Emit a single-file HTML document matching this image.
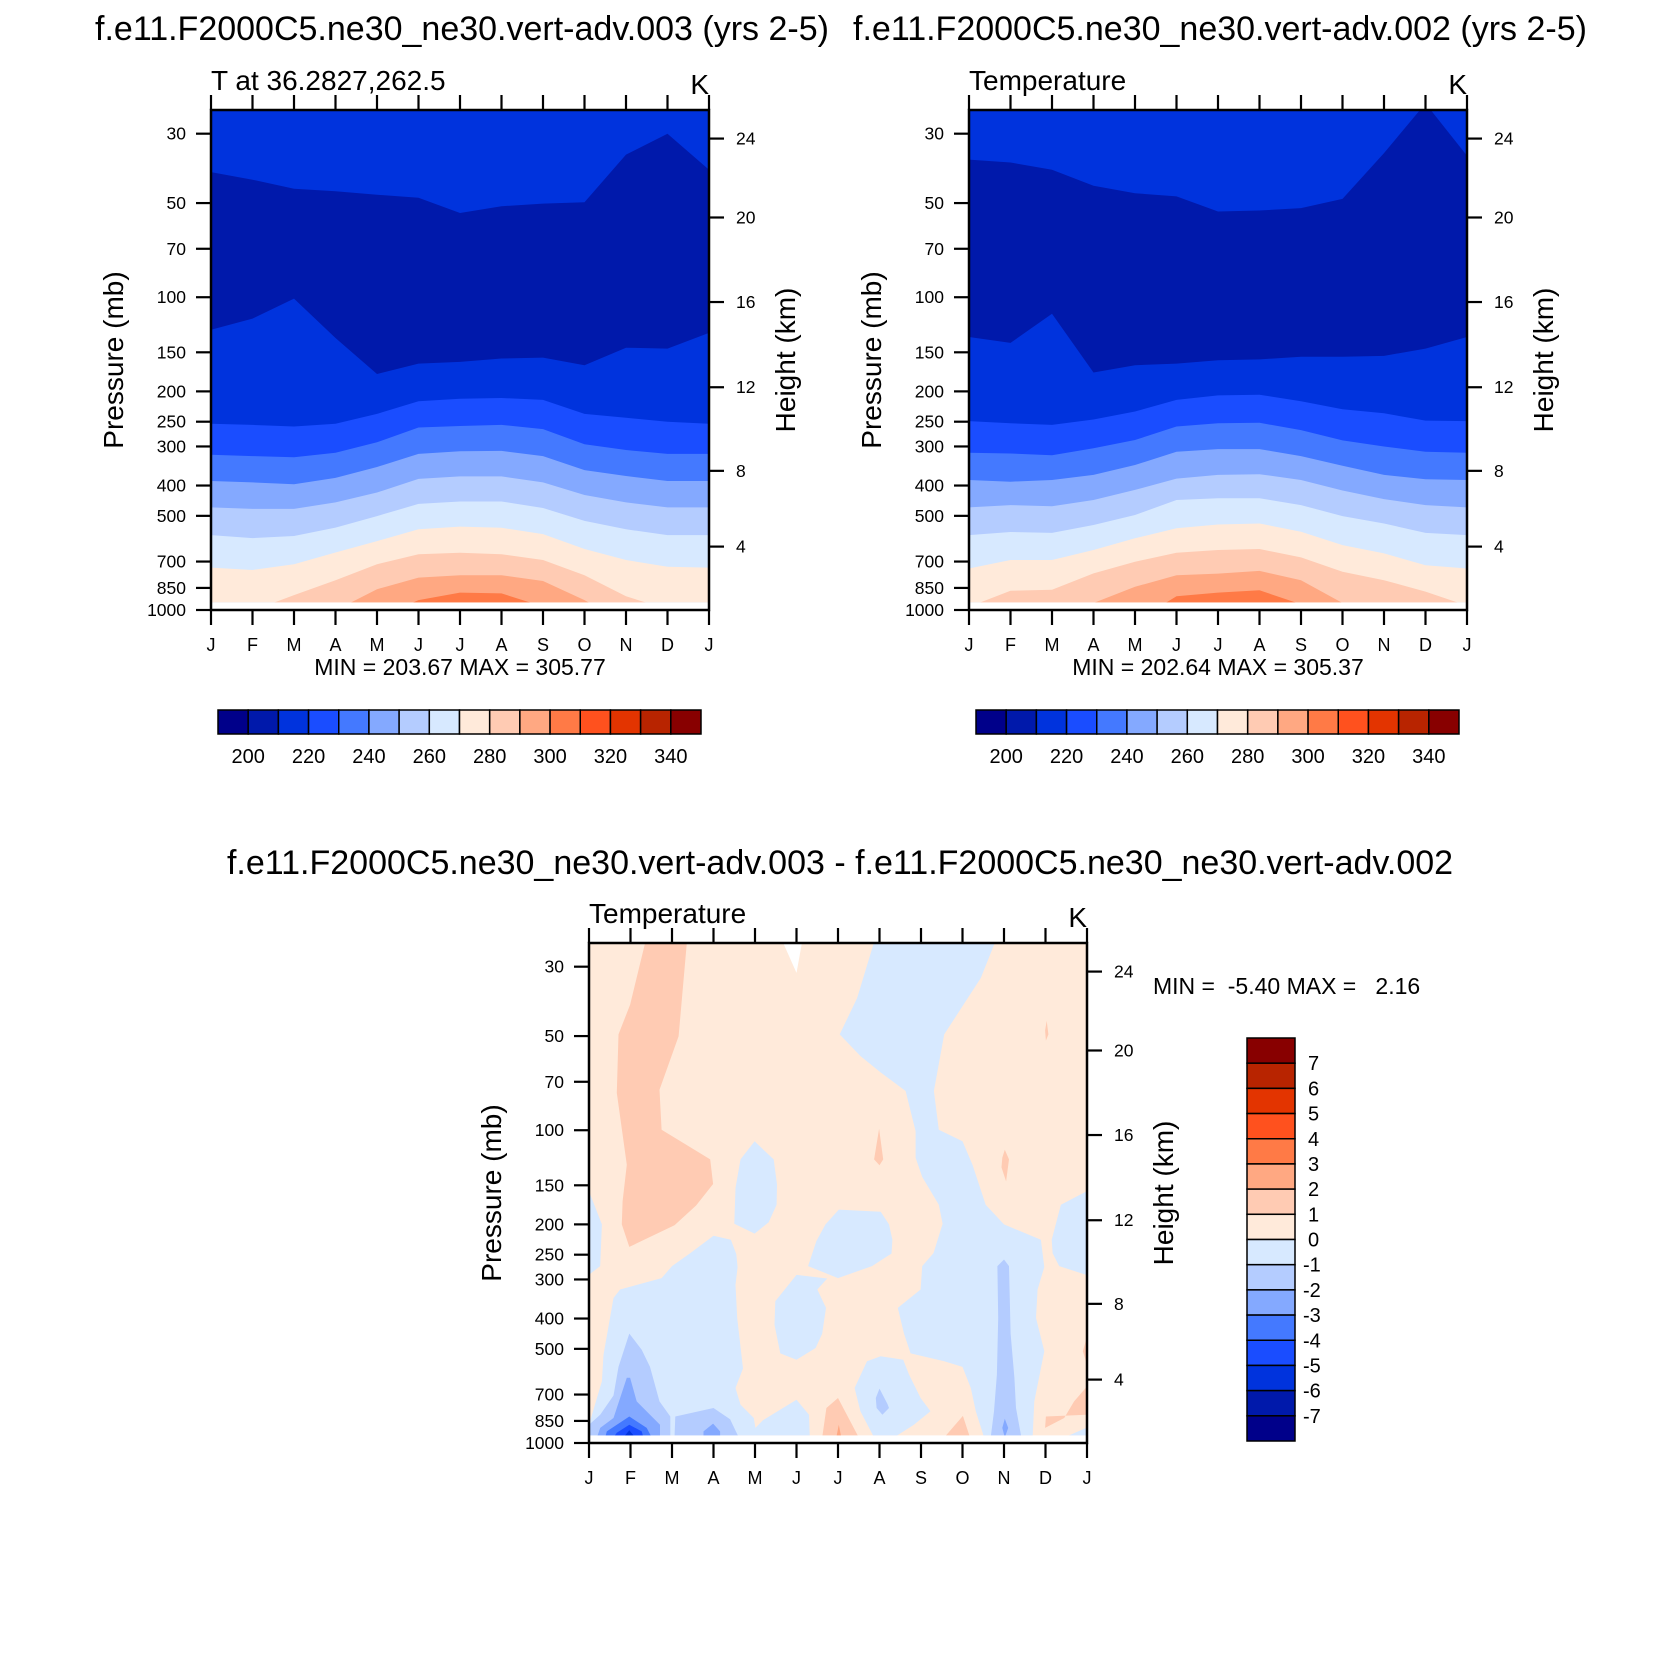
<!DOCTYPE html>
<html><head><meta charset="utf-8"><style>
html,body{margin:0;padding:0;background:#fff;}
svg{display:block;font-family:"Liberation Sans",Arial,sans-serif;}
</style></head><body>
<svg id="fig" xmlns="http://www.w3.org/2000/svg" width="1675" height="1678" viewBox="0 0 1675 1678">
<rect x="0" y="0" width="1675" height="1678" fill="#fff"/>
</svg>
<script>
// ---------- data ----------
const months = ['J','F','M','A','M','J','J','A','S','O','N','D','J'];
const pressureTicks = [30,50,70,100,150,200,250,300,400,500,700,850,1000];
const heightTickKm = [24,20,16,12,8,4];
const heightTickP = [31.1,55.6,103.6,194,359,627];
const tempCbarLabels = [200,220,240,260,280,300,320,340];
const diffCbarLabels = [7,6,5,4,3,2,1,0,-1,-2,-3,-4,-5,-6,-7];
const cbarColors = ['#00008a','#0019ab','#0033dd','#1a4dff','#4479ff','#84a9ff','#b4ccff','#d7e9ff','#ffeada','#ffcbb3','#ffa882','#ff7a46','#ff511e','#e33400','#b82400','#880000'];

// Plot 1 (vert-adv.003): pressure (mb) of isotherms per month
const p1Upper210 = [39.8,42.1,45.0,45.8,47.0,48.1,53.8,51.2,50.2,49.7,35.0,30.0,39.1];
const p1Lower210 = [127,117,101,135,176,163,161,157,156,165,145,146,130];
const p1C220 = [254,256,259,254,236,215,211,210,213,236,243,250,254];
const p1C230 = [319,322,325,314,291,261,258,256,264,295,308,317,317];
const p1C240 = [387,391,396,378,349,317,311,310,322,357,373,387,387];
const p1C250 = [470,475,475,453,421,381,374,374,391,429,453,470,470];
const p1C260 = [576,589,580,545,501,458,450,450,472,519,552,576,576];
const p1C270 = [732,745,714,655,602,552,541,546,572,638,692,727,732];
const p1C280 = [1005,1005,896,803,714,663,656,663,692,774,904,995,1005];
const p1C290 = [1100,1100,1100,1003,858,788,774,774,808,930,1105,1100,1100];
const p1C300 = [1100,1100,1100,1100,1065,930,880,885,975,1100,1100,1100,1100];

// Plot 2 (vert-adv.002)
const p2Upper210 = [36.3,37.1,39.1,44.0,46.5,47.6,53.2,52.8,51.9,48.5,34.6,24,35.3];
const p2Lower210 = [134,140,113,174,165,163,159,158,155,155,154,146,134];
const p2C220 = [249,253,256,246,232,213,206,205,215,228,235,248,249];
const p2C230 = [314,316,320,304,286,259,253,252,266,287,300,312,314];
const p2C240 = [384,389,384,370,344,312,306,306,322,346,370,382,384];
const p2C250 = [470,462,466,445,413,380,370,368,384,415,442,462,470];
const p2C260 = [576,563,567,535,497,445,439,439,462,501,529,567,576];
const p2C270 = [737,692,692,643,590,548,533,529,562,620,659,719,737];
const p2C280 = [977,868,861,764,701,656,643,638,679,755,803,873,969];
const p2C290 = [1050,1050,1050,950,843,774,765,750,803,950,1050,1050,1050];
const p2C300 = [1100,1100,1100,1100,1088,904,880,865,959,1100,1100,1100,1100];

// Difference plot regions: [month, pressure] vertices
const dPos1A = [[1.39,24],[2.37,24],[2.16,50.1],[1.70,74.2],[1.75,99.6],[2.92,124],[2.99,148.6],[2.58,174],[2.06,201.4],[0.97,236],[0.79,200],[0.81,168.8],[0.91,128.9],[0.67,76],[0.71,49.4],[0.99,39.7]];
const dPos1B = [[6.99,98.9],[7.09,124],[7.0,129.5],[6.87,124]];
const dPos1C = [[11.03,44.7],[11.07,49.4],[11.01,51.7],[10.99,48]];
const dPos1D = [[10.02,115.4],[10.12,124],[10.05,145.7],[9.94,131.5],[9.96,122.5]];
const dPos1E = [[6.0,718],[6.5,960],[5.62,960],[5.72,773]];
const dPos2E = [[6.02,874],[6.08,960],[5.96,960]];
const dPos1F = [[9.01,819],[9.18,960],[8.56,960]];
const dPos1G = [[11.98,664],[11.98,812],[11.01,823],[10.99,895],[11.45,832],[11.69,736]];
const dPos1H = [[11.98,467],[11.90,509],[11.98,550]];
const dNeg1A = [[9.84,24],[9.44,32.6],[8.56,49.4],[8.31,74.9],[8.43,99.6],[9.0,108.5],[9.24,129],[9.56,173],[10.0,200],[10.89,224],[10.97,274],[10.81,323],[10.77,398],[10.97,509],[10.73,736],[10.69,960],[9.52,960],[9.32,791],[9.2,667],[9.0,571],[8.56,548],[7.75,517],[7.59,447],[7.44,370],[7.99,323],[8.03,272],[8.30,247],[8.52,199],[8.43,173],[8.03,141],[7.87,122.5],[7.87,100.7],[7.63,74.9],[7.03,65.4],[6.54,57.9],[6.04,49.4],[6.46,37.8],[6.91,24]];
const dNeg2A = [[9.84,272],[10.0,259],[10.12,272],[10.16,447],[10.25,619],[10.29,773],[10.42,960],[9.68,960],[9.76,791],[9.83,604],[9.86,398]];
const dNeg3A = [[10.02,836],[10.1,895],[10.02,960],[9.96,895]];
const dNeg1B = [[0,156.8],[0.31,200],[0.27,272],[0,289.7]];
const dNeg1C = [[0,874],[0.31,635],[0.35,522],[0.59,344],[0.75,323],[1.75,297],[2.0,272],[2.44,247],[3.0,217.5],[3.42,224],[3.55,249],[3.58,274],[3.53,312],[3.57,398],[3.71,578],[3.53,667],[3.65,754],[3.97,832],[4.01,895],[4.19,846],[5.0,727],[5.30,812],[5.32,960],[0,960]];
const dNeg2C = [[0,874],[0.27,812],[0.59,705],[0.71,571],[0.97,447],[1.27,503],[1.47,571],[1.70,736],[1.96,823],[1.96,960],[0,960]];
const dNeg3C = [[0.27,895],[0.59,832],[0.91,619],[0.99,619],[1.15,736],[1.47,812],[1.71,874],[1.71,960],[0.19,960]];
const dNeg4C = [[0.43,918],[0.97,823],[1.39,895],[1.51,960],[0.39,960]];
const dNeg5C = [[0.67,927],[0.97,874],[1.27,918],[1.31,960],[0.59,960]];
const dNeg6C = [[0.83,960],[0.97,910],[1.11,960]];
const dNeg2D = [[2.08,823],[3.0,773],[3.40,840],[3.61,960],[2.06,960]];
const dNeg3D = [[2.76,918],[2.99,867],[3.16,918],[3.16,960],[2.76,960]];
const dNeg1E = [[3.65,124],[3.99,108.5],[4.45,124],[4.53,149],[4.52,173],[4.33,197],[3.99,214],[3.50,199],[3.53,153]];
const dNeg1F = [[5.70,200],[6.02,179.4],[7.03,182.3],[7.23,200],[7.31,224],[7.29,248],[6.82,272],[6.0,297],[5.28,272],[5.48,226]];
const dNeg1G = [[5.0,290],[5.74,298],[5.50,323],[5.71,370],[5.62,447],[5.46,497],[5.0,542],[4.61,517],[4.47,419],[4.49,352]];
const dNeg1H = [[6.40,667],[6.70,548],[7.03,528],[7.57,542],[7.71,604],[7.99,718],[8.23,791],[7.83,874],[7.35,960],[6.87,960],[6.54,791]];
const dNeg2H = [[7.0,670],[7.19,750],[7.23,773],[7.07,812],[6.93,773],[6.91,718]];
const dNeg1I = [[11.98,157],[11.37,173],[11.15,224],[11.17,247],[11.33,272],[11.98,290]];
const dNeg1J = [[11.45,960],[11.98,895],[11.98,960]];
const dMissing = [[4.61,24],[5.16,24],[5.0,31.4]];

// ---------- axes ----------
const NS='http://www.w3.org/2000/svg';
const svg=document.getElementById('fig');
const W=498,H=500,PTOP=25.2,PBOT=1000,PDATA=945;
function xS(m,x0){return x0+W*m/12;}
function yS(p,y0){return y0+H*Math.log(p/PTOP)/Math.log(PBOT/PTOP);}
function mk(tag,attrs,parent){const e=document.createElementNS(NS,tag);for(const k in attrs)e.setAttribute(k,attrs[k]);(parent||svg).appendChild(e);return e;}
function txt(s,x,y,size,anchor,parent){const t=mk('text',{x:x,y:y,'font-size':size,'text-anchor':anchor||'start',fill:'#000'},parent);t.textContent=s;return t;}
function pts(arr,x0,y0){return arr.map(d=>xS(d[0],x0).toFixed(1)+','+yS(d[1],y0).toFixed(1)).join(' ');}
let clipN=0;

function plotFrame(x0,y0,g){
  const f=mk('rect',{x:x0,y:y0,width:W,height:H,fill:'none',stroke:'#000','stroke-width':2.5},g);
  
  months.forEach((m,i)=>{
    const x=xS(i,x0);
    const t1=mk('line',{x1:x,x2:x,y1:y0,y2:y0-15,stroke:'#000','stroke-width':2.2},g);
    
    const t2=mk('line',{x1:x,x2:x,y1:y0+H,y2:y0+H+15,stroke:'#000','stroke-width':2.2},g);
    
    const l=txt(m,x,y0+H+41,18,'middle',g);
    
  });
  pressureTicks.forEach(p=>{
    const y=yS(p,y0);
    const t=mk('line',{x1:x0,x2:x0-15,y1:y,y2:y,stroke:'#000','stroke-width':2.2},g);
    
    const l=txt(String(p),x0-25,y+6,17.5,'end',g);
    
  });
  heightTickKm.forEach((k,i)=>{
    const y=yS(heightTickP[i],y0);
    const t=mk('line',{x1:x0+W,x2:x0+W+15,y1:y,y2:y,stroke:'#000','stroke-width':2.2},g);
    
    const l=txt(String(k),x0+W+27,y+6,17.5,'start',g);
    
  });
  const pl=txt('Pressure (mb)',0,0,28,'middle',g);
  pl.setAttribute('transform','translate('+(x0-88)+','+(y0+H/2)+') rotate(-90)');
  
  const hl=txt('Height (km)',0,0,28,'middle',g);
  hl.setAttribute('transform','translate('+(x0+W+86)+','+(y0+H/2)+') rotate(-90)');
  
}
function clipGroup(x0,y0,g){
  const id='clip'+(clipN++);
  const cp=mk('clipPath',{id:id},g);
  mk('rect',{x:x0,y:y0,width:W,height:yS(PDATA,y0)-y0},cp);
  const cg=mk('g',{'clip-path':'url(#'+id+')'},g);
  
  return cg;
}
function curveFill(arr,x0,y0){
  const a=arr.map((p,i)=>[i,p]);
  return pts(a,x0,y0)+' '+xS(12,x0)+','+(y0+H+50)+' '+xS(0,x0)+','+(y0+H+50);
}
function drawTop(x0,y0,name,u210,l210,contours){
  const g=mk('g',{});
  const cg=clipGroup(x0,y0,g);
  const bg=mk('rect',{x:x0,y:y0,width:W,height:H,fill:cbarColors[2]},cg);
  
  const band=u210.map((p,i)=>[i,p]).concat(l210.map((p,i)=>[i,p]).reverse());
  const db=mk('polygon',{points:pts(band,x0,y0),fill:cbarColors[1]},cg);
  
  contours.forEach((c,i)=>{
    const pg=mk('polygon',{points:curveFill(c,x0,y0),fill:cbarColors[3+i]},cg);
    
    
  });
  plotFrame(x0,y0,g);
  return g;
}
function hColorbar(x0,y0,name){
  const g=mk('g',{});
  const bw=483/16;
  cbarColors.forEach((c,i)=>{
    const r=mk('rect',{x:x0+i*bw,y:y0,width:bw,height:24,fill:c,stroke:'#000','stroke-width':1.5},g);
    
  });
  tempCbarLabels.forEach((v,i)=>{
    const bi=(v-190)/10;
    const l=txt(String(v),x0+bi*bw,y0+53,20,'middle',g);
    
  });
}

// ---------- plot 1 ----------
const P1X=211,P1Y=110,P2X=969,P3X=589,P3Y=943;
let t;
t=txt('f.e11.F2000C5.ne30_ne30.vert-adv.003 (yrs 2-5)',462,40,34,'middle');

t=txt('T at 36.2827,262.5',P1X,90,28,'start');

t=txt('K',P1X+W,94,28,'end');

drawTop(P1X,P1Y,'plot1-contour',p1Upper210,p1Lower210,[p1C220,p1C230,p1C240,p1C250,p1C260,p1C270,p1C280,p1C290,p1C300]);
t=txt('MIN = 203.67 MAX = 305.77',P1X+W/2,675,23,'middle');

hColorbar(218,710,'plot1-colorbar');

// ---------- plot 2 ----------
t=txt('f.e11.F2000C5.ne30_ne30.vert-adv.002 (yrs 2-5)',1220,40,34,'middle');

t=txt('Temperature',P2X,90,28,'start');

t=txt('K',P2X+W,94,28,'end');

drawTop(P2X,P1Y,'plot2-contour',p2Upper210,p2Lower210,[p2C220,p2C230,p2C240,p2C250,p2C260,p2C270,p2C280,p2C290,p2C300]);
t=txt('MIN = 202.64 MAX = 305.37',P2X+W/2,675,23,'middle');

hColorbar(976,710,'plot2-colorbar');

// ---------- plot 3 (difference) ----------
t=txt('f.e11.F2000C5.ne30_ne30.vert-adv.003 - f.e11.F2000C5.ne30_ne30.vert-adv.002',840,874,34,'middle');

t=txt('Temperature',P3X,923,28,'start');

t=txt('K',P3X+W,927,28,'end');

const g3=mk('g',{});


const cg3=clipGroup(P3X,P3Y,g3);
const bg3=mk('rect',{x:P3X,y:P3Y,width:W,height:H,fill:cbarColors[8]},cg3);

const diffRegions=[
 [dPos1A,9],[dPos1B,9],[dPos1C,9],[dPos1D,9],[dPos1E,9],[dPos2E,10],[dPos1F,9],[dPos1G,9],[dPos1H,9],
 [dNeg1A,7],[dNeg2A,6],[dNeg3A,5],[dNeg1B,7],[dNeg1C,7],[dNeg2C,6],[dNeg3C,5],[dNeg4C,4],[dNeg5C,3],[dNeg6C,2],
 [dNeg2D,6],[dNeg3D,5],[dNeg1E,7],[dNeg1F,7],[dNeg1G,7],[dNeg1H,7],[dNeg2H,6],[dNeg1I,7],[dNeg1J,7]
];
diffRegions.forEach(r=>{
  const pg=mk('polygon',{points:pts(r[0],P3X,P3Y),fill:cbarColors[r[1]]},cg3);
  
  
});
const miss=mk('polygon',{points:pts(dMissing,P3X,P3Y),fill:'#fff'},cg3);


plotFrame(P3X,P3Y,g3);
t=mk('text',{x:1153,y:994,'font-size':23,fill:'#000','xml:space':'preserve'});
t.textContent='MIN =  -5.40 MAX =   2.16';

t.style.whiteSpace='pre';
// vertical colorbar
const gcb=mk('g',{});


const vbh=403/16;
cbarColors.slice().reverse().forEach((c,i)=>{
  const r=mk('rect',{x:1247,y:1038+i*vbh,width:48,height:vbh,fill:c,stroke:'#000','stroke-width':1.5},gcb);
  
  
});
diffCbarLabels.forEach((v,i)=>{
  const l=txt(String(v),v<0?1303:1308,1038+(i+1)*vbh+7,20,'start',gcb);
  
  
});
</script>
</body></html>
